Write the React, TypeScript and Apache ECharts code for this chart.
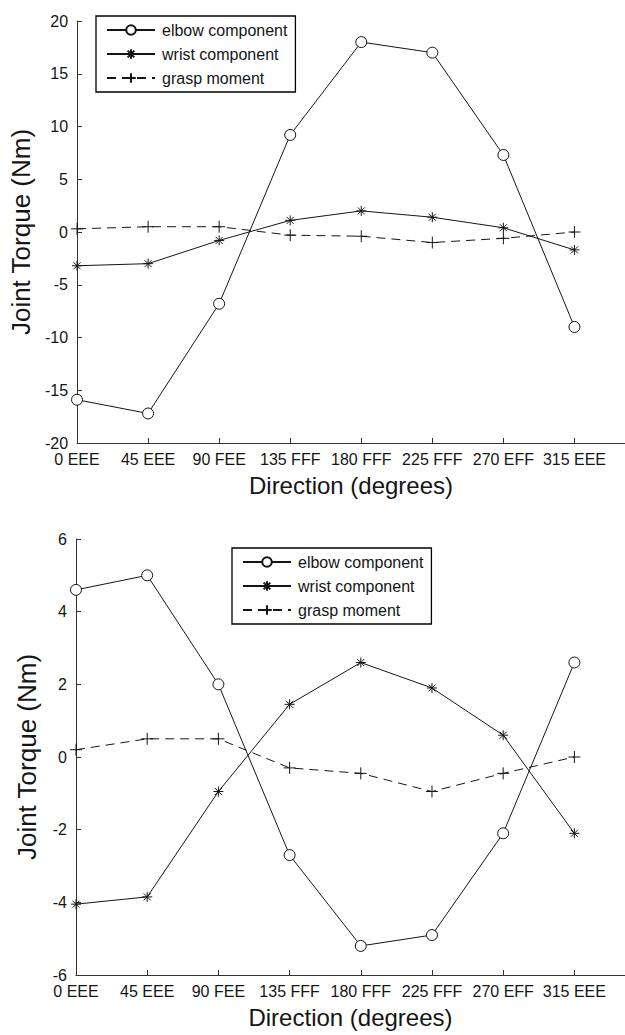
import React, { useEffect, useRef } from "react";
import * as echarts from "echarts";

const categories = ["0 EEE", "45 EEE", "90 FEE", "135 FFF", "180 FFF", "225 FFF", "270 EFF", "315 EEE"];
const directions = [0, 45, 90, 135, 180, 225, 270, 315];

const topElbow = [-15.9, -17.2, -6.8, 9.2, 18.0, 17.0, 7.3, -9.0];
const topWrist = [-3.2, -3.0, -0.8, 1.1, 2.0, 1.4, 0.4, -1.7];
const topGrasp = [0.3, 0.5, 0.5, -0.3, -0.4, -1.0, -0.6, 0.0];

const botElbow = [4.6, 5.0, 2.0, -2.7, -5.2, -4.9, -2.1, 2.6];
const botWrist = [-4.05, -3.85, -0.95, 1.45, 2.6, 1.9, 0.6, -2.1];
const botGrasp = [0.2, 0.5, 0.5, -0.3, -0.45, -0.95, -0.45, 0.0];

const seriesNames = ["elbow component", "wrist component", "grasp moment"];
const topRange = { min: -20, max: 20, interval: 5 };
const botRange = { min: -6, max: 6, interval: 2 };

const FONT = "'Liberation Sans', Arial, Helvetica, sans-serif";
const INK = "#151515";
const CIRCLE = "path://M1,0A1,1 0 1,1 -1,0A1,1 0 1,1 1,0Z";
const ASTERISK = "path://M0,-1L0,1M-1,0L1,0M-0.7,-0.7L0.7,0.7M-0.7,0.7L0.7,-0.7";
const PLUS = "path://M0,-1L0,1M-1,0L1,0";

function pts(vals: number[]) {
  return directions.map((d, i) => [d, vals[i]]);
}

function makeSeries(idx: number, elbow: number[], wrist: number[], grasp: number[]) {
  const base = {
    type: "line",
    xAxisIndex: idx,
    yAxisIndex: idx,
    symbolKeepAspect: true,
  };
  return [
    {
      ...base,
      name: seriesNames[0],
      data: pts(elbow),
      symbol: CIRCLE,
      symbolSize: 11,
      lineStyle: { color: INK, width: 1 },
      itemStyle: { color: "#fff", borderColor: INK, borderWidth: 1 },
    },
    {
      ...base,
      name: seriesNames[1],
      data: pts(wrist),
      symbol: ASTERISK,
      symbolSize: 10,
      lineStyle: { color: INK, width: 1 },
      itemStyle: { color: INK, borderColor: INK, borderWidth: 1 },
    },
    {
      ...base,
      name: seriesNames[2],
      data: pts(grasp),
      symbol: PLUS,
      symbolSize: 12,
      lineStyle: { color: INK, width: 1, type: [9, 6] },
      itemStyle: { color: INK, borderColor: INK, borderWidth: 1 },
    },
  ];
}

function xAxis(idx: number, nameGap: number) {
  return {
    type: "value",
    gridIndex: idx,
    min: 0,
    max: 347,
    interval: 45,
    name: "Direction (degrees)",
    nameLocation: "middle",
    nameGap,
    nameTextStyle: { fontSize: 24, color: INK, fontFamily: FONT },
    axisLine: { onZero: false, lineStyle: { color: "#333", width: 1 } },
    axisTick: { inside: true, length: 5, lineStyle: { color: "#333" }, customValues: directions },
    axisLabel: {
      margin: 8,
      fontSize: 16,
      color: INK,
      fontFamily: FONT,
      customValues: directions,
      formatter: (v: number) => {
        const i = directions.indexOf(v);
        return i >= 0 ? categories[i] : "";
      },
    },
    splitLine: { show: false },
  };
}

function yAxis(idx: number, r: { min: number; max: number; interval: number }) {
  return {
    type: "value",
    gridIndex: idx,
    min: r.min,
    max: r.max,
    interval: r.interval,
    name: "Joint Torque (Nm)",
    nameLocation: "middle",
    nameGap: 36,
    nameTextStyle: { fontSize: 26, color: INK, fontFamily: FONT },
    axisLine: { show: true, onZero: false, lineStyle: { color: "#333", width: 1 } },
    axisTick: { show: true, inside: true, length: 5, lineStyle: { color: "#333" } },
    axisLabel: { margin: 9, fontSize: 16, color: INK, fontFamily: FONT },
    splitLine: { show: false },
  };
}

function legend(left: number, top: number) {
  return {
    data: seriesNames,
    orient: "vertical",
    left,
    top,
    padding: [6, 8, 6, 10],
    itemWidth: 48,
    itemHeight: 12,
    itemGap: 8,
    backgroundColor: "#fff",
    borderColor: "#000",
    borderWidth: 1.3,
    selectedMode: false,
    textStyle: { fontSize: 16, color: INK, fontFamily: FONT, padding: [0, 0, 0, 2] },
  };
}

export default function App() {
  const ref = useRef<HTMLDivElement>(null);
  useEffect(() => {
    document.body.style.margin = "0";
    const chart = echarts.init(ref.current as HTMLDivElement, null, { renderer: "svg" });
    chart.setOption({
      animation: false,
      backgroundColor: "#fff",
      textStyle: { fontFamily: FONT },
      grid: [
        { left: 76, top: 21, width: 549, height: 422 },
        { left: 76, top: 539, width: 549, height: 436 },
      ],
      xAxis: [xAxis(0, 30), xAxis(1, 30)],
      yAxis: [yAxis(0, topRange), yAxis(1, botRange)],
      legend: [legend(96, 16), legend(232, 548)],
      series: [
        ...makeSeries(0, topElbow, topWrist, topGrasp),
        ...makeSeries(1, botElbow, botWrist, botGrasp),
      ],
    });
    return () => chart.dispose();
  }, []);
  return (
    <div
      ref={ref}
      style={{ position: "absolute", left: 0, top: 0, width: 625, height: 1035, background: "#fff" }}
    />
  );
}
